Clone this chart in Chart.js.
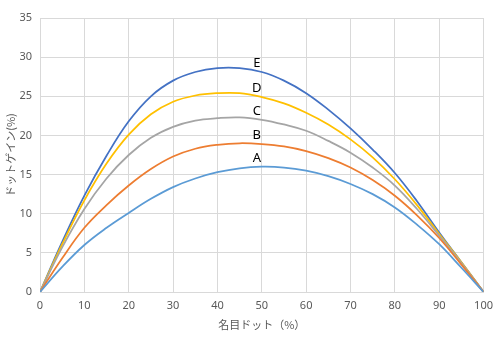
<!DOCTYPE html>
<html>
<head>
<meta charset="utf-8">
<script src="https://cdn.jsdelivr.net/npm/chart.js@4"></script>
<style>
  html, body { margin: 0; padding: 0; background: #fff; }
  #wrap { width: 500px; height: 340px; }
</style>
</head>
<body>
<div id="wrap"><canvas id="myChartGain"></canvas></div>
<script>
// nominal dot (%)
const dotValues = [0, 5, 10, 15, 20, 25, 30, 35, 40, 45, 50, 55, 60, 65, 70, 75, 80, 85, 90, 95, 100];

// dot gain (%) per curve
const gainA = [0, 3.2, 6.0, 8.2, 10.1, 11.9, 13.4, 14.5, 15.3, 15.8, 16.0, 15.9, 15.5, 14.8, 13.8, 12.5, 10.8, 8.6, 6.1, 3.1, 0];
const gainB = [0, 4.3, 8.2, 11.1, 13.6, 15.7, 17.3, 18.3, 18.8, 19.0, 18.9, 18.6, 18.0, 17.1, 15.9, 14.3, 12.3, 9.8, 6.9, 3.5, 0];
const gainC = [0, 5.7, 10.6, 14.5, 17.5, 19.7, 21.1, 21.9, 22.2, 22.3, 22.0, 21.4, 20.6, 19.3, 17.8, 15.9, 13.6, 10.6, 7.2, 3.7, 0];
const gainD = [0, 6.1, 11.7, 16.4, 20.1, 22.7, 24.3, 25.1, 25.4, 25.4, 24.9, 24.1, 22.9, 21.4, 19.5, 17.2, 14.4, 11.1, 7.4, 3.8, 0];
const gainE = [0, 6.4, 12.3, 17.4, 21.8, 25.0, 27.0, 28.1, 28.6, 28.6, 28.1, 27.0, 25.4, 23.3, 20.9, 18.2, 15.2, 11.6, 7.6, 3.8, 0];

const seriesNames = ['A', 'B', 'C', 'D', 'E'];
const seriesColors = ['#5B9BD5', '#ED7D31', '#A5A5A5', '#FFC000', '#4472C4'];
const labelIndex = 10; // curve names sit above the point at 50%

function toPoints(arr) {
  return arr.map((v, i) => ({ x: dotValues[i], y: v }));
}

// draws the A..E names just above each curve
const curveNames = {
  id: 'curveNames',
  afterDatasetsDraw(chart) {
    const ctx = chart.ctx;
    ctx.save();
    ctx.font = '13px "Noto Sans", "Open Sans", sans-serif';
    ctx.fillStyle = '#000';
    ctx.textAlign = 'center';
    ctx.textBaseline = 'bottom';
    chart.data.datasets.forEach((ds, i) => {
      const pt = chart.getDatasetMeta(i).data[labelIndex];
      ctx.fillText(ds.label, pt.x - 5, pt.y - 2);
    });
    ctx.restore();
  }
};

const allGains = [gainA, gainB, gainC, gainD, gainE];

new Chart(document.getElementById('myChartGain'), {
  type: 'scatter',
  data: {
    datasets: allGains.map((g, i) => ({
      label: seriesNames[i],
      data: toPoints(g),
      showLine: true,
      borderColor: seriesColors[i],
      backgroundColor: seriesColors[i],
      borderWidth: 1.75,
      pointRadius: 0,
      tension: 0.4
    }))
  },
  options: {
    responsive: true,
    maintainAspectRatio: false,
    animation: false,
    layout: {
      padding: { top: 18, right: 16, left: 0, bottom: 0 }
    },
    plugins: {
      legend: { display: false },
      tooltip: { enabled: false }
    },
    scales: {
      x: {
        type: 'linear',
        min: 0,
        max: 100,
        ticks: {
          stepSize: 10,
          color: '#595959',
          font: { size: 11, family: '"Noto Sans", sans-serif' },
          padding: 7
        },
        grid: { color: '#d9d9d9', drawTicks: false },
        border: { color: '#d9d9d9' },
        title: {
          display: true,
          text: '名目ドット（%）',
          color: '#595959',
          font: { size: 11, family: '"Noto Sans CJK JP", sans-serif' },
          padding: { top: 4, bottom: 9 }
        },
        afterFit(scale) { scale.height = 48; }
      },
      y: {
        min: 0,
        max: 35,
        ticks: {
          stepSize: 5,
          color: '#595959',
          font: { size: 11, family: '"Noto Sans", sans-serif' },
          padding: 8
        },
        grid: { color: '#d9d9d9', drawTicks: false },
        border: { color: '#d9d9d9' },
        title: {
          display: true,
          text: 'ドットゲイン(%)',
          color: '#595959',
          font: { size: 11, family: '"Noto Sans CJK JP", sans-serif' },
          padding: { bottom: 0 }
        },
        afterFit(scale) { scale.width = 40; }
      }
    }
  },
  plugins: [curveNames]
});
</script>
</body>
</html>
